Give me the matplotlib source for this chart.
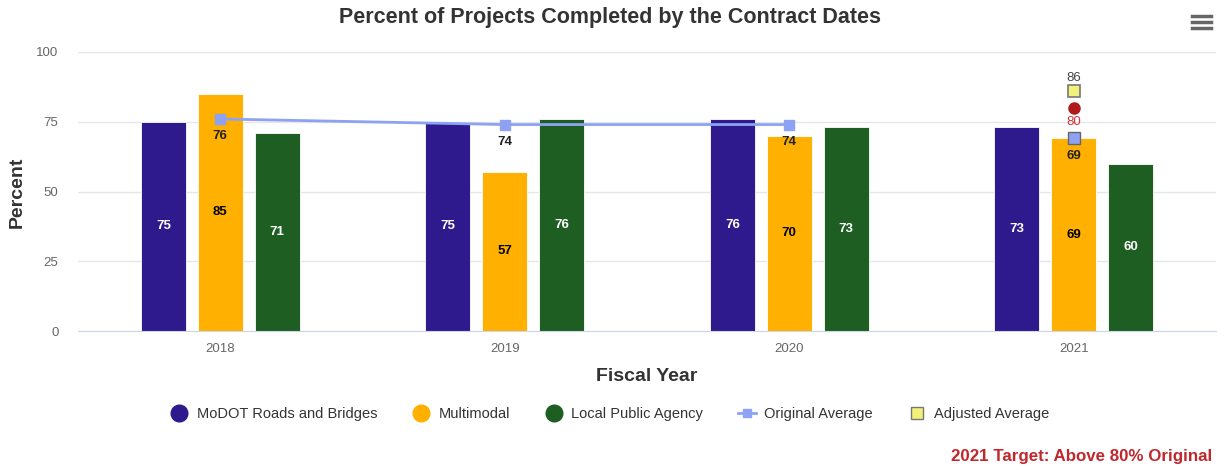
import matplotlib.pyplot as plt
from matplotlib.lines import Line2D
import numpy as np

plt.rcParams["font.family"] = ["Liberation Sans", "DejaVu Sans"]

YEARS = ["2018", "2019", "2020", "2021"]
MODOT = [75, 75, 76, 73]
MULTIMODAL = [85, 57, 70, 69]
LOCAL_AGENCY = [71, 76, 73, 60]
ORIGINAL_AVG = [76, 74, 74, 69]   # 2021 point not joined to the line
TARGET_2021 = 80
ADJUSTED_2021 = 86

COLORS = {
    "MoDOT Roads and Bridges": "#2E1A8C",
    "Multimodal": "#FFB000",
    "Local Public Agency": "#1E5E22",
}
LINE_COLOR = "#8EA2F4"
TEXT_DARK = "#333333"
TICK_GRAY = "#666666"
RED = "#C0282D"


def main():
    fig = plt.figure(figsize=(12.25, 4.7), dpi=100)
    ax = fig.add_axes([78 / 1225, 1 - 331 / 470, 1138 / 1225, 279 / 470])

    x = np.arange(len(YEARS))
    width = 0.158
    offset = 0.2
    series = [
        ("MoDOT Roads and Bridges", MODOT, -offset, "white"),
        ("Multimodal", MULTIMODAL, 0.0, "black"),
        ("Local Public Agency", LOCAL_AGENCY, offset, "white"),
    ]
    for name, vals, off, lab_color in series:
        bars = ax.bar(x + off, vals, width=width, color=COLORS[name],
                      edgecolor="white", linewidth=0.6, zorder=2)
        for b, v in zip(bars, vals):
            ax.text(b.get_x() + b.get_width() / 2, v / 2, f"{v}",
                    ha="center", va="center", fontsize=9.5,
                    fontweight="bold", color=lab_color, zorder=4)

    # original average: joined for 2018-2020, separate point for 2021
    ax.plot(x[:3], ORIGINAL_AVG[:3], color=LINE_COLOR, linewidth=2,
            marker="s", markersize=7, zorder=3)
    ax.plot(x[3], ORIGINAL_AVG[3], marker="s", markersize=8,
            markerfacecolor=LINE_COLOR, markeredgecolor="#666666",
            markeredgewidth=1, linestyle="none", zorder=3)
    for xi, v in zip(x, ORIGINAL_AVG):
        ax.annotate(f"{v}", (xi, v), xytext=(0, -8), textcoords="offset points",
                    ha="center", va="top", fontsize=9.5, fontweight="bold",
                    color="#222222", zorder=4)

    ax.plot(x[3], TARGET_2021, marker="o", markersize=8,
            color="#B11A1A", linestyle="none", zorder=3)
    ax.annotate(f"{TARGET_2021}", (x[3], TARGET_2021), xytext=(0, -6),
                textcoords="offset points", ha="center", va="top",
                fontsize=9.5, color="#D0353A", zorder=4)

    ax.plot(x[3], ADJUSTED_2021, marker="s", markersize=8,
            markerfacecolor="#F2F27A", markeredgecolor="#777777",
            markeredgewidth=1.2, linestyle="none", zorder=3)
    ax.annotate(f"{ADJUSTED_2021}", (x[3], ADJUSTED_2021), xytext=(0, 5),
                textcoords="offset points", ha="center", va="bottom",
                fontsize=9.5, color="#444444", zorder=4)

    ax.set_xlim(-0.5, 3.5)
    ax.set_ylim(0, 100)
    ax.set_xticks(x)
    ax.set_xticklabels(YEARS)
    ax.set_yticks([0, 25, 50, 75, 100])
    ax.tick_params(axis="both", length=0, labelsize=9.5, colors=TICK_GRAY, pad=9)
    ax.tick_params(axis="y", pad=14)
    ax.grid(True, axis="y", color="#E6E6E6", linewidth=1)
    ax.set_axisbelow(True)
    for side in ("top", "right", "left"):
        ax.spines[side].set_visible(False)
    ax.spines["bottom"].set_color("#CCD6EB")

    ax.set_xlabel("Fiscal Year", fontsize=14, fontweight="bold",
                  color=TEXT_DARK, labelpad=9)
    fig.text(17 / 1225, 1 - 192 / 470, "Percent", rotation=90,
             ha="center", va="center", fontsize=14, fontweight="bold",
             color=TEXT_DARK)

    fig.text(610 / 1225, 1 - 18 / 470,
             "Percent of Projects Completed by the Contract Dates",
             ha="center", va="center", fontsize=15.5, fontweight="bold",
             color=TEXT_DARK)

    handles = [
        Line2D([], [], marker="o", linestyle="none", markersize=12,
               color=COLORS["MoDOT Roads and Bridges"]),
        Line2D([], [], marker="o", linestyle="none", markersize=12,
               color=COLORS["Multimodal"]),
        Line2D([], [], marker="o", linestyle="none", markersize=12,
               color=COLORS["Local Public Agency"]),
        Line2D([], [], marker="s", color=LINE_COLOR, linewidth=2, markersize=6),
        Line2D([], [], marker="s", linestyle="none", markersize=8,
               markerfacecolor="#F2F27A", markeredgecolor="#777777"),
    ]
    labels = ["MoDOT Roads and Bridges", "Multimodal", "Local Public Agency",
              "Original Average", "Adjusted Average"]
    fig.legend(handles, labels, loc="center", bbox_to_anchor=(610 / 1225, 1 - 414 / 470),
               ncol=5, frameon=False, fontsize=10.5, handlelength=1.2,
               handletextpad=0.6, columnspacing=2.4, labelcolor=TEXT_DARK)

    fig.text(1212 / 1225, 1 - 457 / 470, "2021 Target: Above 80% Original",
             ha="right", va="center", fontsize=12.2, fontweight="bold", color=RED)

    # menu icon
    for yy in (16, 22, 28):
        fig.add_artist(Line2D([1192 / 1225, 1211 / 1225], [1 - yy / 470] * 2,
                              color="#666666", linewidth=2.5))

    fig.savefig("out.png", dpi=100)


if __name__ == "__main__":
    main()
